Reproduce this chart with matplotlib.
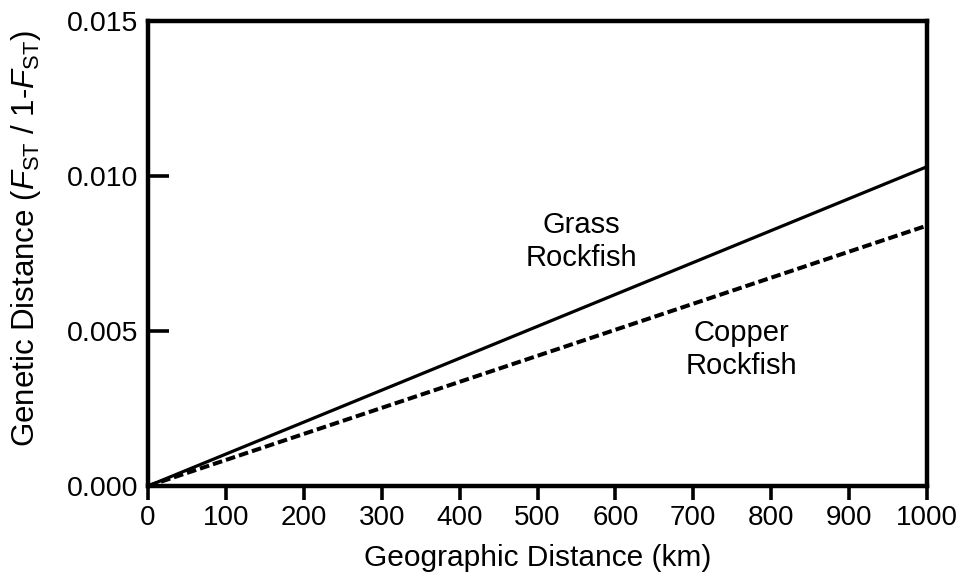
import matplotlib
matplotlib.use('Agg')
import matplotlib.pyplot as plt
import numpy as np

plt.rcParams['font.family'] = ['Liberation Sans', 'DejaVu Sans']
plt.rcParams['mathtext.fontset'] = 'custom'
plt.rcParams['mathtext.rm'] = 'Liberation Sans'
plt.rcParams['mathtext.it'] = 'Liberation Sans:italic'

# ------------ data (isolation by distance fits) ------------
distance_km = [0, 1000]
grass_dist = [0.0, 0.0103]
copper_dist = [0.0, 0.0084]

x_ticks = [0, 100, 200, 300, 400, 500, 600, 700, 800, 900, 1000]
y_ticks = [0.000, 0.005, 0.010, 0.015]
y_ticklabels = ['0.000', '0.005', '0.010', '0.015']

# ------------ figure ------------
fig = plt.figure(figsize=(9.63, 5.75), dpi=100)
ax = fig.add_axes([148 / 963, 1 - 486 / 575, 779 / 963, 465 / 575])

ax.plot(distance_km, grass_dist, color='black', linewidth=2.3, linestyle='-',
        solid_capstyle='butt')
ax.plot(distance_km, copper_dist, color='black', linewidth=2.9,
        linestyle=(0, (2.4, 1.0)), dash_capstyle='butt')

ax.text(556, 0.00789, 'Grass\nRockfish', ha='center', va='center',
        fontsize=21, linespacing=1.25)
ax.text(762, 0.00440, 'Copper\nRockfish', ha='center', va='center',
        fontsize=21, linespacing=1.25)

ax.set_xlim(0, 1000)
ax.set_ylim(0, 0.015)
ax.set_xticks(x_ticks)
ax.set_yticks(y_ticks)
ax.set_yticklabels(y_ticklabels)

for s in ax.spines.values():
    s.set_linewidth(3.2)
ax.tick_params(axis='x', direction='out', length=10, width=2.6, labelsize=20, pad=4)
ax.tick_params(axis='y', direction='in', length=15, width=2.6, labelsize=20.5, pad=7)

ax.set_xlabel('Geographic Distance (km)', fontsize=21.5, labelpad=9)
ax.set_ylabel(r'Genetic Distance ($\mathit{F}_{\mathrm{ST}}$ / 1-$\mathit{F}_{\mathrm{ST}}$)',
              fontsize=22.5)
ax.yaxis.set_label_coords(-0.135, 0.533)

fig.savefig('out.png', dpi=100)
